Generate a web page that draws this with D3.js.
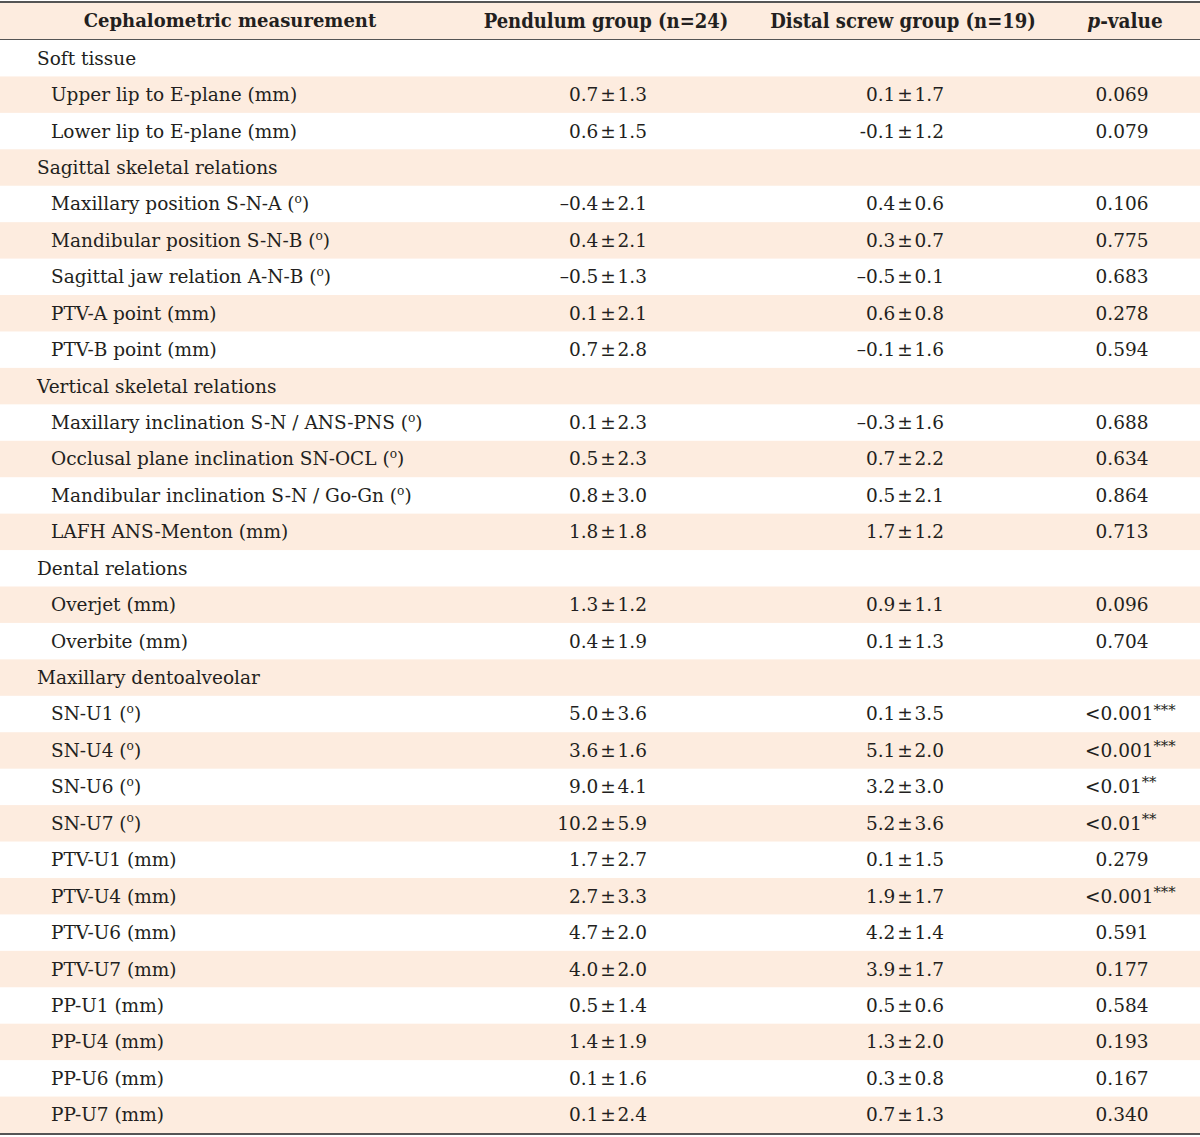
<!DOCTYPE html>
<html><head><meta charset="utf-8">
<script src="https://cdn.jsdelivr.net/npm/d3@7"></script>
<style>body{margin:0;background:#fff}svg{display:block}</style>
</head><body>
<script>
const headers = ["Cephalometric measurement", "Pendulum group (n=24)", "Distal screw group (n=19)", "p-value"];
const labels = ["Soft tissue","Upper lip to E-plane (mm)","Lower lip to E-plane (mm)","Sagittal skeletal relations",
"Maxillary position S-N-A (°)","Mandibular position S-N-B (°)","Sagittal jaw relation A-N-B (°)","PTV-A point (mm)","PTV-B point (mm)",
"Vertical skeletal relations","Maxillary inclination S-N / ANS-PNS (°)","Occlusal plane inclination SN-OCL (°)","Mandibular inclination S-N / Go-Gn (°)","LAFH ANS-Menton (mm)",
"Dental relations","Overjet (mm)","Overbite (mm)","Maxillary dentoalveolar",
"SN-U1 (°)","SN-U4 (°)","SN-U6 (°)","SN-U7 (°)","PTV-U1 (mm)","PTV-U4 (mm)","PTV-U6 (mm)","PTV-U7 (mm)","PP-U1 (mm)","PP-U4 (mm)","PP-U6 (mm)","PP-U7 (mm)"];
const isSection = [1,0,0,1,0,0,0,0,0,1,0,0,0,0,1,0,0,1,0,0,0,0,0,0,0,0,0,0,0,0];
const pendulum = ["","0.7 ± 1.3","0.6 ± 1.5","","–0.4 ± 2.1","0.4 ± 2.1","–0.5 ± 1.3","0.1 ± 2.1","0.7 ± 2.8",
"","0.1 ± 2.3","0.5 ± 2.3","0.8 ± 3.0","1.8 ± 1.8","","1.3 ± 1.2","0.4 ± 1.9","",
"5.0 ± 3.6","3.6 ± 1.6","9.0 ± 4.1","10.2 ± 5.9","1.7 ± 2.7","2.7 ± 3.3","4.7 ± 2.0","4.0 ± 2.0","0.5 ± 1.4","1.4 ± 1.9","0.1 ± 1.6","0.1 ± 2.4"];
const screw = ["","0.1 ± 1.7","-0.1 ± 1.2","","0.4 ± 0.6","0.3 ± 0.7","–0.5 ± 0.1","0.6 ± 0.8","–0.1 ± 1.6",
"","–0.3 ± 1.6","0.7 ± 2.2","0.5 ± 2.1","1.7 ± 1.2","","0.9 ± 1.1","0.1 ± 1.3","",
"0.1 ± 3.5","5.1 ± 2.0","3.2 ± 3.0","5.2 ± 3.6","0.1 ± 1.5","1.9 ± 1.7","4.2 ± 1.4","3.9 ± 1.7","0.5 ± 0.6","1.3 ± 2.0","0.3 ± 0.8","0.7 ± 1.3"];
const pValue = ["","0.069","0.079","","0.106","0.775","0.683","0.278","0.594",
"","0.688","0.634","0.864","0.713","","0.096","0.704","",
"<0.001","<0.001","<0.01","<0.01","0.279","<0.001","0.591","0.177","0.584","0.193","0.167","0.340"];
const pStars = ["","","","","","","","","","","","","","","","","","","***","***","**","**","","***","","","","","",""];

const W = 1200, H = 1137;
const svg = d3.select("body").append("svg").attr("width", W).attr("height", H);
const peach = "#fdecdf", ink = "#231f20", rule = "#555";
const font = "'DejaVu Serif', serif";

const y = d3.scaleBand().domain(d3.range(labels.length)).range([40, 1133]);
const headerY = [3, 39];

svg.append("rect").attr("x",0).attr("y",headerY[0]).attr("width",W).attr("height",headerY[1]-headerY[0]).attr("fill",peach);
svg.selectAll("rect.stripe").data(d3.range(labels.length).filter(i => i % 2 === 1)).join("rect")
  .attr("class","stripe").attr("x",0).attr("y",i=>y(i)).attr("width",W).attr("height",y.bandwidth()).attr("fill",peach);

svg.append("line").attr("x1",0).attr("x2",W).attr("y1",2).attr("y2",2).attr("stroke",rule).attr("stroke-width",2);
svg.append("line").attr("x1",0).attr("x2",W).attr("y1",39.5).attr("y2",39.5).attr("stroke",rule).attr("stroke-width",1);
svg.append("line").attr("x1",0).attr("x2",W).attr("y1",1134).attr("y2",1134).attr("stroke",rule).attr("stroke-width",2);

const hx = [230, 606, 903, 1125];
const hfs = [18, 20, 20, 20.5];
const hfam = ["'DejaVu Serif', serif", "'DejaVu Serif Condensed','DejaVu Serif',serif", "'DejaVu Serif Condensed','DejaVu Serif',serif", "'DejaVu Serif Condensed','DejaVu Serif',serif"];
headers.forEach((h,i) => {
  const t = svg.append("text").attr("x",hx[i]).attr("y",21).attr("dy","0.35em").attr("text-anchor","middle")
    .attr("font-family",hfam[i]).attr("font-weight","bold").attr("font-size",hfs[i]).attr("fill",ink);
  if (i === 3) { t.append("tspan").attr("font-style","italic").text("p"); t.append("tspan").text("-value"); }
  else t.text(h);
});

const fs = 18.5;
const cy = i => y(i) + y.bandwidth()/2;

const lab = svg.selectAll("text.lab").data(labels).join("text").attr("class","lab")
  .attr("x",(d,i)=>isSection[i]?37:51).attr("y",(d,i)=>cy(i)).attr("dy","0.35em")
  .attr("font-family",font).attr("font-size",fs).attr("fill",ink);
lab.each(function(d){
  const sel = d3.select(this);
  if (d.includes("(°)")) {
    const [a,b] = d.split("(°)");
    sel.append("tspan").text(a+"(");
    sel.append("tspan").attr("font-size",fs*0.66).attr("dy","-0.6em").text("o");
    sel.append("tspan").attr("dy", (fs*0.66*0.6)+"px").text(")"+b);
  } else sel.text(d);
});

svg.selectAll("text.pend").data(pendulum).join("text").attr("class","pend")
  .attr("x",647).attr("y",(d,i)=>cy(i)).attr("dy","0.35em").attr("text-anchor","end")
  .attr("font-family",font).attr("font-size",fs).attr("word-spacing",-4).attr("fill",ink).text(d=>d);
svg.selectAll("text.scr").data(screw).join("text").attr("class","scr")
  .attr("x",944).attr("y",(d,i)=>cy(i)).attr("dy","0.35em").attr("text-anchor","end")
  .attr("font-family",font).attr("font-size",fs).attr("word-spacing",-4).attr("fill",ink).text(d=>d);
const pv = svg.selectAll("text.pv").data(pValue).join("text").attr("class","pv")
  .attr("x",(d,i)=>pStars[i]?1085:1122).attr("y",(d,i)=>cy(i)).attr("dy","0.35em")
  .attr("text-anchor",(d,i)=>pStars[i]?"start":"middle")
  .attr("font-family",font).attr("font-size",fs).attr("fill",ink);
pv.each(function(d,i){
  const sel = d3.select(this);
  sel.append("tspan").text(d);
  if (pStars[i]) sel.append("tspan").attr("font-size",fs*0.8).attr("dy","-0.4em").text(pStars[i]);
});
</script>
</body></html>
